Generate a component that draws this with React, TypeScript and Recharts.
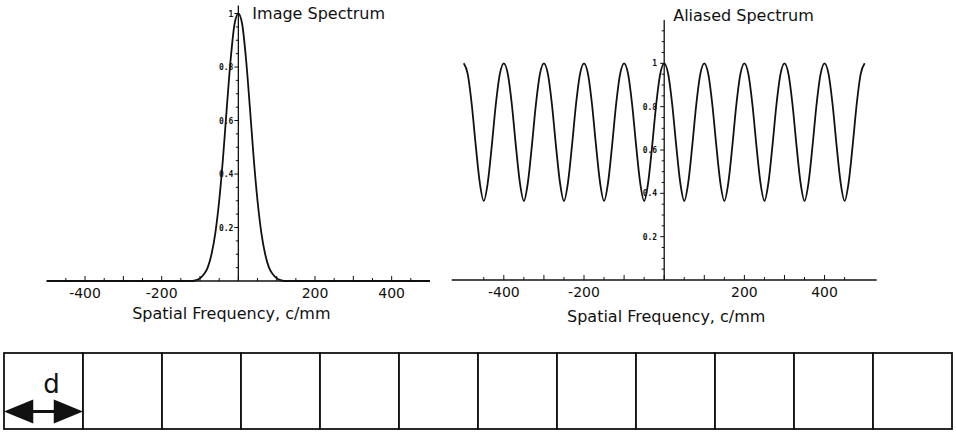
import React from 'react';
import { LineChart, Line, XAxis, YAxis, ReferenceLine, BarChart, Bar } from 'recharts';

// ---------- data ----------
const IMAGE_FREQ = [-500, -400, -300, -200, -130, -120, -110, -100, -90, -80, -70, -60, -50, -40, -30, -20, -10, 0, 10, 20, 30, 40, 50, 60, 70, 80, 90, 100, 110, 120, 130, 200, 300, 400, 500];
const IMAGE_AMP = [0, 0, 0, 0, 0, 0, 0.003, 0.01, 0.025, 0.05, 0.1, 0.18, 0.3, 0.46, 0.65, 0.83, 0.96, 1.0, 0.96, 0.83, 0.65, 0.46, 0.3, 0.18, 0.1, 0.05, 0.025, 0.01, 0.003, 0, 0, 0, 0, 0, 0];

const ALIAS_FREQ = [
  -500, -490, -480, -470, -460, -450, -440, -430, -420, -410,
  -400, -390, -380, -370, -360, -350, -340, -330, -320, -310,
  -300, -290, -280, -270, -260, -250, -240, -230, -220, -210,
  -200, -190, -180, -170, -160, -150, -140, -130, -120, -110,
  -100, -90, -80, -70, -60, -50, -40, -30, -20, -10,
  0, 10, 20, 30, 40, 50, 60, 70, 80, 90,
  100, 110, 120, 130, 140, 150, 160, 170, 180, 190,
  200, 210, 220, 230, 240, 250, 260, 270, 280, 290,
  300, 310, 320, 330, 340, 350, 360, 370, 380, 390,
  400, 410, 420, 430, 440, 450, 460, 470, 480, 490,
  500,
];
const ALIAS_AMP = [
  1, 0.95, 0.81, 0.62, 0.45, 0.365, 0.45, 0.62, 0.81, 0.95,
  1, 0.95, 0.81, 0.62, 0.45, 0.365, 0.45, 0.62, 0.81, 0.95,
  1, 0.95, 0.81, 0.62, 0.45, 0.365, 0.45, 0.62, 0.81, 0.95,
  1, 0.95, 0.81, 0.62, 0.45, 0.365, 0.45, 0.62, 0.81, 0.95,
  1, 0.95, 0.81, 0.62, 0.45, 0.365, 0.45, 0.62, 0.81, 0.95,
  1, 0.95, 0.81, 0.62, 0.45, 0.365, 0.45, 0.62, 0.81, 0.95,
  1, 0.95, 0.81, 0.62, 0.45, 0.365, 0.45, 0.62, 0.81, 0.95,
  1, 0.95, 0.81, 0.62, 0.45, 0.365, 0.45, 0.62, 0.81, 0.95,
  1, 0.95, 0.81, 0.62, 0.45, 0.365, 0.45, 0.62, 0.81, 0.95,
  1, 0.95, 0.81, 0.62, 0.45, 0.365, 0.45, 0.62, 0.81, 0.95,
  1,
];

const X_TICKS = [-450, -400, -350, -300, -250, -200, -150, -100, -50, 0, 50, 100, 150, 200, 250, 300, 350, 400, 450];
const X_TICK_LABELS = [-400, -200, 200, 400];
const Y_TICKS_LEFT = [0.05, 0.1, 0.15, 0.2, 0.25, 0.3, 0.35, 0.4, 0.45, 0.5, 0.55, 0.6, 0.65, 0.7, 0.75, 0.8, 0.85, 0.9, 0.95, 1];
const Y_TICKS_RIGHT = [0.05, 0.1, 0.15, 0.2, 0.25, 0.3, 0.35, 0.4, 0.45, 0.5, 0.55, 0.6, 0.65, 0.7, 0.75, 0.8, 0.85, 0.9, 0.95, 1, 1.05, 1.1, 1.15];
const Y_TICK_LABELS = [0.2, 0.4, 0.6, 0.8, 1];

const CELLS = ['c1', 'c2', 'c3', 'c4', 'c5', 'c6', 'c7', 'c8', 'c9', 'c10', 'c11', 'c12'];
const CELL_VALUE = [1, 1, 1, 1, 1, 1, 1, 1, 1, 1, 1, 1];

const TITLE_LEFT = 'Image Spectrum';
const TITLE_RIGHT = 'Aliased Spectrum';
const X_LABEL = 'Spatial Frequency, c/mm';

const imageData = IMAGE_FREQ.map((f, i) => ({ f, a: IMAGE_AMP[i] }));
const aliasData = ALIAS_FREQ.map((f, i) => ({ f, a: ALIAS_AMP[i] }));
const cellData = CELLS.map((id, i) => ({ id, v: CELL_VALUE[i] }));

// ---------- styling ----------
const SANS = 'DejaVu Sans, Liberation Sans, Arial, sans-serif';
const MONO = 'DejaVu Sans Mono, Liberation Mono, monospace';
const INK = '#111';

const fmt = (v: number) => (v === 1 ? '1' : String(Math.round(v * 10) / 10));
const isLabelY = (v: number) => Y_TICK_LABELS.some((t) => Math.abs(t - v) < 1e-6);

const makeXTick = (labelDy: number) => (props: any) => {
  const { x, y, payload } = props;
  const v = payload.value as number;
  const len = v % 100 === 0 ? 5 : 3;
  return (
    <g>
      <line x1={x} x2={x} y1={y} y2={y - len} stroke={INK} strokeWidth={1} />
      {X_TICK_LABELS.includes(v) && (
        <text x={x} y={y + labelDy} textAnchor="middle" fontFamily={SANS} fontSize={14} fill={INK}>
          {v}
        </text>
      )}
    </g>
  );
};

const makeYTick = (axisOffset: number, labelGap: number) => (props: any) => {
  const { x, y, payload } = props;
  const v = payload.value as number;
  const ax = x + axisOffset;
  const major = isLabelY(v);
  return (
    <g>
      <line x1={ax - (major ? 4 : 2.5)} x2={ax} y1={y} y2={y} stroke={INK} strokeWidth={1} />
      {major && (
        <text x={ax - labelGap} y={y + 3} textAnchor="end" fontFamily={MONO} fontWeight="bold" fontSize={8} fill={INK}>
          {fmt(v)}
        </text>
      )}
    </g>
  );
};

const makeTitle = (text: string, dx: number, baseline: number) => (props: any) => {
  const vb = props.viewBox || {};
  return (
    <text x={(vb.x ?? 0) + dx} y={baseline} fontFamily={SANS} fontSize={16} fill={INK}>
      {text}
    </text>
  );
};

const makeAxisLabel = (dx: number, baseline: number) => (props: any) => {
  const vb = props.viewBox || {};
  return (
    <text x={(vb.x ?? 0) + (vb.width ?? 0) / 2 + dx} y={baseline} textAnchor="middle" fontFamily={SANS} fontSize={16} fill={INK}>
      {X_LABEL}
    </text>
  );
};

// ---------- layout ----------
const CH_W = 480;
const CH_H = 340;
const Y_W = 1; // y-axis band width (kept >0 so Recharts renders its ticks)
const LEFT_M = { top: 5.5, right: 50, bottom: 29, left: 46.7 - Y_W };
const RIGHT_M = { top: 20, right: 43.3, bottom: 30, left: 11.7 - Y_W };
const LEFT_XDOM: [number, number] = [-500, 500];
const RIGHT_XDOM: [number, number] = [-530, 530];

// distance in px from the plot's left edge to the x = 0 position
const zeroOffset = (m: { left: number; right: number }, dom: [number, number]) =>
  ((CH_W - m.left - Y_W - m.right) * (0 - dom[0])) / (dom[1] - dom[0]);

const CellShape = (props: any) => {
  const { x, y, width, height, index } = props;
  const ly = y + height * 0.77;
  const head = width * 0.37;
  const hh = 12;
  return (
    <g>
      <rect x={x} y={y} width={width} height={height} fill="#fff" stroke={INK} strokeWidth={1.8} />
      {index === 0 && (
        <g>
          <line x1={x + head - 1} x2={x + width - head + 1} y1={ly} y2={ly} stroke={INK} strokeWidth={3} />
          <polygon points={`${x},${ly} ${x + head},${ly - hh} ${x + head},${ly + hh}`} fill={INK} />
          <polygon points={`${x + width},${ly} ${x + width - head},${ly - hh} ${x + width - head},${ly + hh}`} fill={INK} />
          <text x={x + width * 0.6} y={y + 40} textAnchor="middle" fontFamily={SANS} fontSize={26} fill={INK}>
            d
          </text>
        </g>
      )}
    </g>
  );
};

export default function App() {
  return (
    <div style={{ position: 'absolute', left: 0, top: 0, width: 956, height: 433, background: '#fff', overflow: 'hidden' }}>
      <div style={{ position: 'absolute', left: 0, top: 0 }}>
        <LineChart width={CH_W} height={CH_H} data={imageData} margin={LEFT_M}>
          <XAxis
            dataKey="f"
            type="number"
            domain={LEFT_XDOM}
            ticks={X_TICKS}
            interval={0}
            height={30}
            tickSize={0}
            tickMargin={0}
            tickLine={false}
            axisLine={{ stroke: INK, strokeWidth: 1.5 }}
            tick={makeXTick(17)}
            label={{ content: makeAxisLabel(-7, 319) } as any}
          />
          <YAxis
            type="number"
            domain={[0, 1.03]}
            ticks={Y_TICKS_LEFT}
            interval={0}
            width={Y_W}
            tickSize={0}
            tickMargin={0}
            tickLine={false}
            axisLine={false}
            tick={makeYTick(zeroOffset(LEFT_M, LEFT_XDOM), 5)}
          />
          <ReferenceLine x={0} stroke={INK} strokeWidth={1.3} label={{ content: makeTitle(TITLE_LEFT, 14, 19) } as any} />
          <Line dataKey="a" type="monotone" stroke={INK} strokeWidth={1.8} dot={false} isAnimationActive={false} />
        </LineChart>
      </div>
      <div style={{ position: 'absolute', left: 440, top: 0 }}>
        <LineChart width={CH_W} height={CH_H} data={aliasData} margin={RIGHT_M}>
          <XAxis
            dataKey="f"
            type="number"
            domain={RIGHT_XDOM}
            ticks={X_TICKS}
            interval={0}
            height={30}
            tickSize={0}
            tickMargin={0}
            tickLine={false}
            axisLine={{ stroke: INK, strokeWidth: 1.5 }}
            tick={makeXTick(17)}
            label={{ content: makeAxisLabel(2, 322) } as any}
          />
          <YAxis
            type="number"
            domain={[0, 1.2]}
            ticks={Y_TICKS_RIGHT}
            interval={0}
            width={Y_W}
            tickSize={0}
            tickMargin={0}
            tickLine={false}
            axisLine={false}
            tick={makeYTick(zeroOffset(RIGHT_M, RIGHT_XDOM), 7)}
          />
          <ReferenceLine x={0} stroke={INK} strokeWidth={1.3} label={{ content: makeTitle(TITLE_RIGHT, 9, 21) } as any} />
          <Line dataKey="a" type="monotone" stroke={INK} strokeWidth={1.8} dot={false} isAnimationActive={false} />
        </LineChart>
      </div>
      <div style={{ position: 'absolute', left: 0, top: 340 }}>
        <BarChart width={956} height={93} data={cellData} margin={{ top: 13, right: 4, bottom: 4, left: 4 }} barCategoryGap={0} barGap={0}>
          <XAxis dataKey="id" hide />
          <YAxis hide domain={[0, 1]} />
          <Bar dataKey="v" isAnimationActive={false} shape={CellShape} />
        </BarChart>
      </div>
    </div>
  );
}
